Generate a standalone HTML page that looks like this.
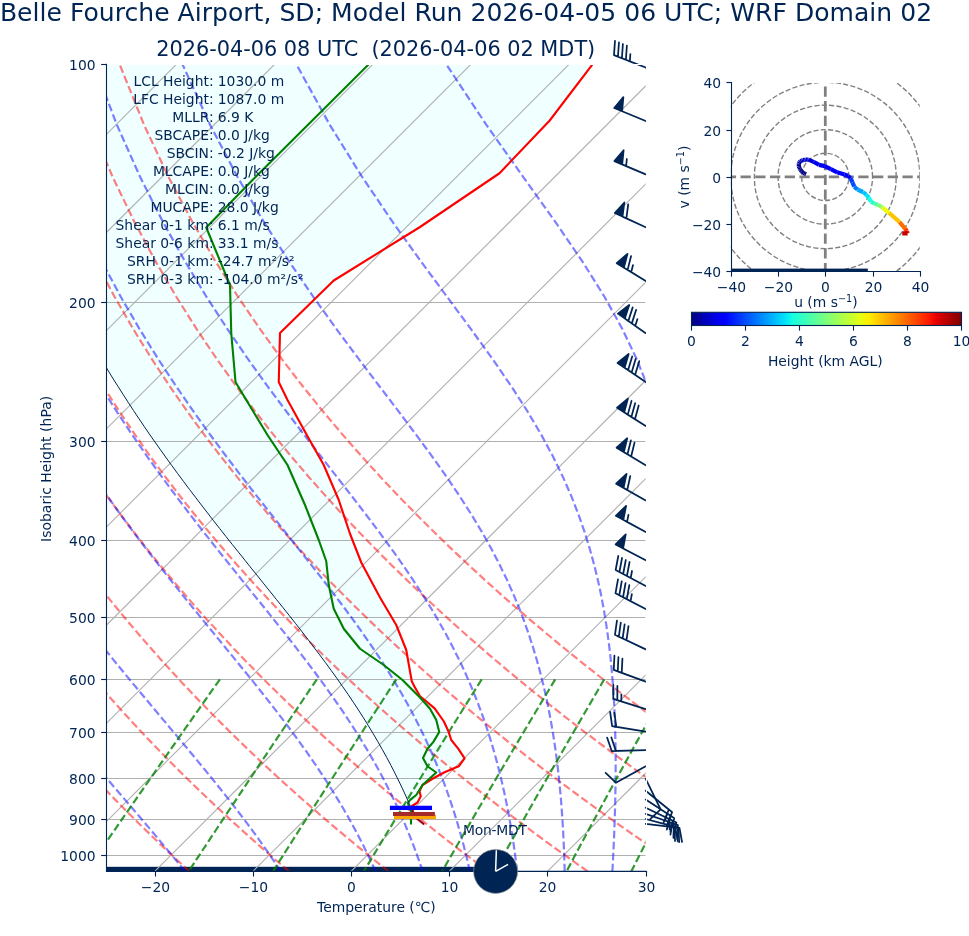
<!DOCTYPE html>
<html lang="en"><head><meta charset="utf-8"><title>Skew-T</title>
<style>html,body{margin:0;padding:0;background:#fff}svg{display:block;will-change:transform}</style></head>
<body>
<svg width="969" height="936" viewBox="0 0 969 936" font-family="'DejaVu Sans', 'Liberation Sans', sans-serif" fill="#002453">
<defs><clipPath id="ca"><rect x="106.5" y="64.35" width="539.15" height="807.05"/></clipPath>
<clipPath id="ch"><rect x="730.8" y="82.4" width="189" height="189"/></clipPath>
<linearGradient id="jet" x1="0" x2="1" y1="0" y2="0"><stop offset="0.0000" stop-color="#000080"/><stop offset="0.0312" stop-color="#0000a4"/><stop offset="0.0625" stop-color="#0000c8"/><stop offset="0.0938" stop-color="#0000ed"/><stop offset="0.1250" stop-color="#0000ff"/><stop offset="0.1562" stop-color="#0020ff"/><stop offset="0.1875" stop-color="#0040ff"/><stop offset="0.2188" stop-color="#0060ff"/><stop offset="0.2500" stop-color="#0080ff"/><stop offset="0.2812" stop-color="#00a0ff"/><stop offset="0.3125" stop-color="#00c0ff"/><stop offset="0.3438" stop-color="#00e0fb"/><stop offset="0.3750" stop-color="#16ffe1"/><stop offset="0.4062" stop-color="#30ffc7"/><stop offset="0.4375" stop-color="#49ffad"/><stop offset="0.4688" stop-color="#63ff94"/><stop offset="0.5000" stop-color="#7dff7a"/><stop offset="0.5312" stop-color="#97ff60"/><stop offset="0.5625" stop-color="#b1ff46"/><stop offset="0.5938" stop-color="#caff2c"/><stop offset="0.6250" stop-color="#e4ff13"/><stop offset="0.6562" stop-color="#feed00"/><stop offset="0.6875" stop-color="#ffd000"/><stop offset="0.7188" stop-color="#ffb200"/><stop offset="0.7500" stop-color="#ff9400"/><stop offset="0.7812" stop-color="#ff7700"/><stop offset="0.8125" stop-color="#ff5900"/><stop offset="0.8438" stop-color="#ff3b00"/><stop offset="0.8750" stop-color="#ff1e00"/><stop offset="0.9062" stop-color="#e80000"/><stop offset="0.9375" stop-color="#c40000"/><stop offset="0.9688" stop-color="#9f0000"/><stop offset="1.0000" stop-color="#800000"/></linearGradient></defs>
<rect width="969" height="936" fill="#fff"/>
<g clip-path="url(#ca)">
<polygon points="592.3,64.6 549.5,120.75 499.5,173.25 420,227 333.75,280.5 280,333 278.75,382 287.5,400 307.5,436.25 323.75,465 338.75,500 350,533.75 361.25,562.5 380,597.5 396.25,625 406.25,650 411.75,681.25 414.2,686.1 420,696.25 425.9,701 434.6,708.4 443.75,721.25 448.2,730.7 451.25,740 458.2,748.7 464.6,758.3 458.75,766.25 444.5,772.2 432.5,778.75 422.5,785 419.5,791.25 420.75,796.25 417.5,802.5 412,806 413,811.5 409.7,804.7 406.2,796.8 402.6,788.9 398.8,781 394.9,773.1 390.9,765.3 386.7,757.4 382.3,749.5 377.8,741.6 373.2,733.7 368.4,725.8 363.5,717.9 358.5,710.1 353.3,702.2 348,694.3 342.5,686.4 337,678.5 331.3,670.6 325.5,662.7 319.7,654.9 313.7,647 307.7,639.1 301.6,631.2 295.4,623.3 289.2,615.4 282.9,607.5 276.6,599.7 270.3,591.8 263.9,583.9 257.6,576 251.2,568.1 244.9,560.2 238.6,552.3 232.3,544.5 226,536.6 219.8,528.7 213.6,520.8 207.5,512.9 201.4,505 195.4,497.1 189.4,489.3 183.5,481.4 177.6,473.5 171.8,465.6 166.1,457.7 160.5,449.8 154.9,441.9 149.4,434.1 144,426.2 138.7,418.3 133.4,410.4 128.3,402.5 123.2,394.6 118.2,386.7 113.2,378.9 108.4,371 103.6,363.1 98.9,355.2 94.3,347.3 89.7,339.4 85.3,331.5 80.9,323.7 76.6,315.8 72.4,307.9 68.2,300 101.5,300 101.5,64.35" fill="#f0ffff"/>
<rect x="106.5" y="866.8" width="389.1" height="5.15" fill="#002453"/>
<line x1="106.5" x2="645.65" y1="64.5" y2="64.5" stroke="#b0b0b0" stroke-width="1.11"/>
<line x1="106.5" x2="645.65" y1="302.5" y2="302.5" stroke="#b0b0b0" stroke-width="1.11"/>
<line x1="106.5" x2="645.65" y1="441.5" y2="441.5" stroke="#b0b0b0" stroke-width="1.11"/>
<line x1="106.5" x2="645.65" y1="540.5" y2="540.5" stroke="#b0b0b0" stroke-width="1.11"/>
<line x1="106.5" x2="645.65" y1="617.5" y2="617.5" stroke="#b0b0b0" stroke-width="1.11"/>
<line x1="106.5" x2="645.65" y1="679.5" y2="679.5" stroke="#b0b0b0" stroke-width="1.11"/>
<line x1="106.5" x2="645.65" y1="732.5" y2="732.5" stroke="#b0b0b0" stroke-width="1.11"/>
<line x1="106.5" x2="645.65" y1="778.5" y2="778.5" stroke="#b0b0b0" stroke-width="1.11"/>
<line x1="106.5" x2="645.65" y1="819.5" y2="819.5" stroke="#b0b0b0" stroke-width="1.11"/>
<line x1="106.5" x2="645.65" y1="855.5" y2="855.5" stroke="#b0b0b0" stroke-width="1.11"/>
<line x1="-925.24" y1="871.4" x2="-118.19" y2="64.35" stroke="#b0b0b0" stroke-width="1.11"/>
<line x1="-827.06" y1="871.4" x2="-20.01" y2="64.35" stroke="#b0b0b0" stroke-width="1.11"/>
<line x1="-728.88" y1="871.4" x2="78.17" y2="64.35" stroke="#b0b0b0" stroke-width="1.11"/>
<line x1="-630.7" y1="871.4" x2="176.35" y2="64.35" stroke="#b0b0b0" stroke-width="1.11"/>
<line x1="-532.52" y1="871.4" x2="274.53" y2="64.35" stroke="#b0b0b0" stroke-width="1.11"/>
<line x1="-434.34" y1="871.4" x2="372.71" y2="64.35" stroke="#b0b0b0" stroke-width="1.11"/>
<line x1="-336.16" y1="871.4" x2="470.89" y2="64.35" stroke="#b0b0b0" stroke-width="1.11"/>
<line x1="-237.98" y1="871.4" x2="569.07" y2="64.35" stroke="#b0b0b0" stroke-width="1.11"/>
<line x1="-139.8" y1="871.4" x2="667.25" y2="64.35" stroke="#b0b0b0" stroke-width="1.11"/>
<line x1="-41.62" y1="871.4" x2="765.43" y2="64.35" stroke="#b0b0b0" stroke-width="1.11"/>
<line x1="56.56" y1="871.4" x2="863.61" y2="64.35" stroke="#b0b0b0" stroke-width="1.11"/>
<line x1="154.74" y1="871.4" x2="961.79" y2="64.35" stroke="#b0b0b0" stroke-width="1.11"/>
<line x1="252.92" y1="871.4" x2="1059.97" y2="64.35" stroke="#b0b0b0" stroke-width="1.11"/>
<line x1="351.1" y1="871.4" x2="1158.15" y2="64.35" stroke="#b0b0b0" stroke-width="1.11"/>
<line x1="449.28" y1="871.4" x2="1256.33" y2="64.35" stroke="#b0b0b0" stroke-width="1.11"/>
<line x1="547.46" y1="871.4" x2="1354.51" y2="64.35" stroke="#b0b0b0" stroke-width="1.11"/>
<line x1="645.64" y1="871.4" x2="1452.69" y2="64.35" stroke="#b0b0b0" stroke-width="1.11"/>
<polyline points="189.59,871.44 182.61,865.04 175.56,858.52 168.45,851.88 161.28,845.1 154.05,838.19 146.75,831.13 139.38,823.93 131.95,816.57 124.44,809.06 116.87,801.37 109.22,793.51 101.5,785.46 93.7,777.22 85.83,768.78 77.87,760.12 69.83,751.24 61.71,742.13 53.51,732.76 45.21,723.14 36.82,713.23 28.35,703.03 19.77,692.52 11.1,681.68 2.34,670.48 -6.53,658.91 -15.5,646.93 -24.58,634.52 -33.77,621.64 -43.06,608.26 -52.46,594.34 -61.98,579.83 -71.61,564.68 -81.35,548.83 -91.2,532.21 -101.16,514.74 -111.23,496.34 -121.39,476.9 -131.65,456.29 -141.99,434.36 -152.39,410.93 -162.83,385.79 -173.26,358.66 -183.64,329.2 -193.9,296.97 -203.91,261.4 -213.51,221.71 -222.44,176.83 -230.28,125.17 -236.32,64.35" fill="none" stroke="#f00" stroke-width="2.2" stroke-dasharray="7.71 3.33" stroke-opacity="0.5" />
<polyline points="289.15,871.44 281.64,865.04 274.05,858.52 266.4,851.88 258.68,845.1 250.89,838.19 243.02,831.13 235.08,823.93 227.06,816.57 218.97,809.06 210.79,801.37 202.53,793.51 194.18,785.46 185.75,777.22 177.23,768.78 168.62,760.12 159.91,751.24 151.11,742.13 142.21,732.76 133.21,723.14 124.1,713.23 114.88,703.03 105.56,692.52 96.12,681.68 86.56,670.48 76.88,658.91 67.08,646.93 57.16,634.52 47.1,621.64 36.91,608.26 26.59,594.34 16.12,579.83 5.52,564.68 -5.23,548.83 -16.13,532.21 -27.18,514.74 -38.37,496.34 -49.71,476.9 -61.18,456.29 -72.8,434.36 -84.53,410.93 -96.38,385.79 -108.29,358.66 -120.25,329.2 -132.18,296.97 -143.99,261.4 -155.54,221.71 -166.6,176.83 -176.79,125.17 -185.46,64.35" fill="none" stroke="#f00" stroke-width="2.2" stroke-dasharray="7.71 3.33" stroke-opacity="0.5" />
<polyline points="388.71,871.44 380.66,865.04 372.55,858.52 364.35,851.88 356.08,845.1 347.73,838.19 339.29,831.13 330.78,823.93 322.18,816.57 313.49,809.06 304.71,801.37 295.83,793.51 286.87,785.46 277.8,777.22 268.64,768.78 259.37,760.12 249.99,751.24 240.51,742.13 230.91,732.76 221.2,723.14 211.37,713.23 201.42,703.03 191.34,692.52 181.13,681.68 170.78,670.48 160.3,658.91 149.67,646.93 138.9,634.52 127.97,621.64 116.88,608.26 105.64,594.34 94.22,579.83 82.64,564.68 70.88,548.83 58.93,532.21 46.81,514.74 34.49,496.34 21.98,476.9 9.28,456.29 -3.6,434.36 -16.68,410.93 -29.92,385.79 -43.33,358.66 -56.86,329.2 -70.46,296.97 -84.08,261.4 -97.57,221.71 -110.76,176.83 -123.3,125.17 -134.61,64.35" fill="none" stroke="#f00" stroke-width="2.2" stroke-dasharray="7.71 3.33" stroke-opacity="0.5" />
<polyline points="488.27,871.44 479.69,865.04 471.04,858.52 462.3,851.88 453.48,845.1 444.57,838.19 435.57,831.13 426.48,823.93 417.29,816.57 408.01,809.06 398.62,801.37 389.14,793.51 379.55,785.46 369.85,777.22 360.04,768.78 350.12,760.12 340.07,751.24 329.91,742.13 319.62,732.76 309.2,723.14 298.65,713.23 287.96,703.03 277.12,692.52 266.14,681.68 255.01,670.48 243.71,658.91 232.26,646.93 220.64,634.52 208.84,621.64 196.86,608.26 184.69,594.34 172.33,579.83 159.76,564.68 146.99,548.83 134,532.21 120.79,514.74 107.35,496.34 93.67,476.9 79.75,456.29 65.59,434.36 51.18,410.93 36.53,385.79 21.64,358.66 6.54,329.2 -8.75,296.97 -24.16,261.4 -39.6,221.71 -54.91,176.83 -69.81,125.17 -83.76,64.35" fill="none" stroke="#f00" stroke-width="2.2" stroke-dasharray="7.71 3.33" stroke-opacity="0.5" />
<polyline points="587.83,871.44 578.72,865.04 569.53,858.52 560.25,851.88 550.88,845.1 541.41,838.19 531.84,831.13 522.17,823.93 512.4,816.57 502.53,809.06 492.54,801.37 482.44,793.51 472.23,785.46 461.9,777.22 451.44,768.78 440.86,760.12 430.15,751.24 419.31,742.13 408.32,732.76 397.2,723.14 385.92,713.23 374.49,703.03 362.9,692.52 351.15,681.68 339.23,670.48 327.13,658.91 314.85,646.93 302.38,634.52 289.7,621.64 276.83,608.26 263.74,594.34 250.43,579.83 236.88,564.68 223.1,548.83 209.07,532.21 194.77,514.74 180.21,496.34 165.36,476.9 150.22,456.29 134.79,434.36 119.04,410.93 102.98,385.79 86.61,358.66 69.93,329.2 52.97,296.97 35.76,261.4 18.36,221.71 0.93,176.83 -16.31,125.17 -32.91,64.35" fill="none" stroke="#f00" stroke-width="2.2" stroke-dasharray="7.71 3.33" stroke-opacity="0.5" />
<polyline points="687.38,871.44 677.75,865.04 668.03,858.52 658.2,851.88 648.28,845.1 638.25,838.19 628.11,831.13 617.87,823.93 607.52,816.57 597.05,809.06 586.46,801.37 575.75,793.51 564.91,785.46 553.95,777.22 542.85,768.78 531.61,760.12 520.23,751.24 508.71,742.13 497.03,732.76 485.19,723.14 473.2,713.23 461.03,703.03 448.69,692.52 436.16,681.68 423.45,670.48 410.55,658.91 397.44,646.93 384.11,634.52 370.57,621.64 356.8,608.26 342.79,594.34 328.53,579.83 314.01,564.68 299.21,548.83 284.13,532.21 268.75,514.74 253.06,496.34 237.05,476.9 220.69,456.29 203.98,434.36 186.9,410.93 169.44,385.79 151.58,358.66 133.33,329.2 114.69,296.97 95.67,261.4 76.33,221.71 56.77,176.83 37.18,125.17 17.94,64.35" fill="none" stroke="#f00" stroke-width="2.2" stroke-dasharray="7.71 3.33" stroke-opacity="0.5" />
<polyline points="786.94,871.44 776.78,865.04 766.52,858.52 756.15,851.88 745.68,845.1 735.09,838.19 724.39,831.13 713.57,823.93 702.63,816.57 691.57,809.06 680.38,801.37 669.05,793.51 657.6,785.46 646,777.22 634.25,768.78 622.36,760.12 610.31,751.24 598.11,742.13 585.73,732.76 573.19,723.14 560.47,713.23 547.56,703.03 534.47,692.52 521.18,681.68 507.68,670.48 493.96,658.91 480.02,646.93 465.85,634.52 451.44,621.64 436.77,608.26 421.84,594.34 406.63,579.83 391.13,564.68 375.32,548.83 359.2,532.21 342.74,514.74 325.92,496.34 308.74,476.9 291.16,456.29 273.17,434.36 254.76,410.93 235.89,385.79 216.55,358.66 196.72,329.2 176.4,296.97 155.59,261.4 134.3,221.71 112.61,176.83 90.67,125.17 68.8,64.35" fill="none" stroke="#f00" stroke-width="2.2" stroke-dasharray="7.71 3.33" stroke-opacity="0.5" />
<polyline points="886.5,871.44 875.81,865.04 865.01,858.52 854.1,851.88 843.08,845.1 831.93,838.19 820.66,831.13 809.27,823.93 797.75,816.57 786.09,809.06 774.29,801.37 762.36,793.51 750.28,785.46 738.05,777.22 725.66,768.78 713.11,760.12 700.39,751.24 687.5,742.13 674.44,732.76 661.19,723.14 647.74,713.23 634.1,703.03 620.25,692.52 606.19,681.68 591.9,670.48 577.38,658.91 562.61,646.93 547.59,634.52 532.31,621.64 516.74,608.26 500.89,594.34 484.73,579.83 468.25,564.68 451.44,548.83 434.26,532.21 416.72,514.74 398.78,496.34 380.43,476.9 361.63,456.29 342.37,434.36 322.61,410.93 302.34,385.79 281.52,358.66 260.12,329.2 238.12,296.97 215.5,261.4 192.27,221.71 168.46,176.83 144.17,125.17 119.65,64.35" fill="none" stroke="#f00" stroke-width="2.2" stroke-dasharray="7.71 3.33" stroke-opacity="0.5" />
<polyline points="185.09,871.44 179.92,865.04 174.6,858.52 169.13,851.88 163.5,845.1 157.72,838.19 151.78,831.13 145.68,823.93 139.42,816.57 133.01,809.06 126.43,801.37 119.69,793.51 112.79,785.46 105.74,777.22 98.53,768.78 91.16,760.12 83.63,751.24 75.96,742.13 68.13,732.76 60.15,723.14 52.02,713.23 43.75,703.03 35.33,692.52 26.77,681.68 18.07,670.48 9.23,658.91 0.26,646.93 -8.86,634.52 -18.11,621.64 -27.49,608.26 -37.01,594.34 -46.66,579.83 -56.44,564.68 -66.35,548.83 -76.38,532.21 -86.54,514.74 -96.82,496.34 -107.21,476.9 -117.7,456.29 -128.29,434.36 -138.96,410.93 -149.67,385.79 -160.4,358.66 -171.09,329.2 -181.67,296.97 -192.04,261.4 -202.03,221.71 -211.38,176.83 -219.69,125.17 -226.24,64.35" fill="none" stroke="#00f" stroke-width="2.2" stroke-dasharray="7.71 3.33" stroke-opacity="0.5" />
<polyline points="280.88,871.44 276.65,865.04 272.26,858.52 267.68,851.88 262.93,845.1 257.98,838.19 252.84,831.13 247.5,823.93 241.96,816.57 236.2,809.06 230.22,801.37 224.02,793.51 217.59,785.46 210.94,777.22 204.05,768.78 196.92,760.12 189.56,751.24 181.96,742.13 174.12,732.76 166.04,723.14 157.73,713.23 149.18,703.03 140.41,692.52 131.4,681.68 122.17,670.48 112.71,658.91 103.04,646.93 93.15,634.52 83.05,621.64 72.75,608.26 62.24,594.34 51.54,579.83 40.64,564.68 29.54,548.83 18.25,532.21 6.78,514.74 -4.88,496.34 -16.72,476.9 -28.74,456.29 -40.92,434.36 -53.26,410.93 -65.75,385.79 -78.35,358.66 -91.03,329.2 -103.73,296.97 -116.37,261.4 -128.82,221.71 -140.86,176.83 -152.13,125.17 -162.02,64.35" fill="none" stroke="#00f" stroke-width="2.2" stroke-dasharray="7.71 3.33" stroke-opacity="0.5" />
<polyline points="375.56,871.44 372.67,865.04 369.64,858.52 366.45,851.88 363.1,845.1 359.58,838.19 355.87,831.13 351.97,823.93 347.86,816.57 343.54,809.06 338.99,801.37 334.19,793.51 329.14,785.46 323.82,777.22 318.22,768.78 312.32,760.12 306.12,751.24 299.6,742.13 292.74,732.76 285.54,723.14 277.99,713.23 270.07,703.03 261.78,692.52 253.13,681.68 244.09,670.48 234.67,658.91 224.88,646.93 214.71,634.52 204.17,621.64 193.27,608.26 182.01,594.34 170.4,579.83 158.46,564.68 146.18,548.83 133.58,532.21 120.67,514.74 107.45,496.34 93.93,476.9 80.13,456.29 66.04,434.36 51.68,410.93 37.05,385.79 22.17,358.66 7.07,329.2 -8.23,296.97 -23.65,261.4 -39.11,221.71 -54.44,176.83 -69.35,125.17 -83.33,64.35" fill="none" stroke="#00f" stroke-width="2.2" stroke-dasharray="7.71 3.33" stroke-opacity="0.5" />
<polyline points="422.71,871.44 420.55,865.04 418.28,858.52 415.87,851.88 413.33,845.1 410.65,838.19 407.81,831.13 404.8,823.93 401.61,816.57 398.23,809.06 394.65,801.37 390.85,793.51 386.81,785.46 382.52,777.22 377.97,768.78 373.13,760.12 367.98,751.24 362.51,742.13 356.7,732.76 350.52,723.14 343.96,713.23 336.99,703.03 329.59,692.52 321.76,681.68 313.47,670.48 304.7,658.91 295.45,646.93 285.71,634.52 275.47,621.64 264.74,608.26 253.5,594.34 241.79,579.83 229.59,564.68 216.92,548.83 203.8,532.21 190.23,514.74 176.25,496.34 161.85,476.9 147.06,456.29 131.88,434.36 116.33,410.93 100.42,385.79 84.16,358.66 67.57,329.2 50.69,296.97 33.55,261.4 16.23,221.71 -1.12,176.83 -18.28,125.17 -34.77,64.35" fill="none" stroke="#00f" stroke-width="2.2" stroke-dasharray="7.71 3.33" stroke-opacity="0.5" />
<polyline points="469.89,871.44 468.45,865.04 466.92,858.52 465.29,851.88 463.57,845.1 461.73,838.19 459.77,831.13 457.68,823.93 455.45,816.57 453.07,809.06 450.53,801.37 447.81,793.51 444.91,785.46 441.79,777.22 438.45,768.78 434.86,760.12 431.01,751.24 426.88,742.13 422.43,732.76 417.65,723.14 412.5,713.23 406.96,703.03 400.99,692.52 394.57,681.68 387.66,670.48 380.22,658.91 372.23,646.93 363.65,634.52 354.45,621.64 344.62,608.26 334.13,594.34 322.96,579.83 311.11,564.68 298.58,548.83 285.38,532.21 271.52,514.74 257.02,496.34 241.9,476.9 226.19,456.29 209.92,434.36 193.1,410.93 175.77,385.79 157.94,358.66 139.63,329.2 120.88,296.97 101.72,261.4 82.2,221.71 62.42,176.83 42.6,125.17 23.09,64.35" fill="none" stroke="#00f" stroke-width="2.2" stroke-dasharray="7.71 3.33" stroke-opacity="0.5" />
<polyline points="517.19,871.44 516.42,865.04 515.59,858.52 514.7,851.88 513.74,845.1 512.7,838.19 511.58,831.13 510.37,823.93 509.07,816.57 507.66,809.06 506.14,801.37 504.49,793.51 502.71,785.46 500.78,777.22 498.68,768.78 496.41,760.12 493.94,751.24 491.25,742.13 488.32,732.76 485.13,723.14 481.65,713.23 477.85,703.03 473.69,692.52 469.15,681.68 464.16,670.48 458.71,658.91 452.72,646.93 446.16,634.52 438.96,621.64 431.06,608.26 422.42,594.34 412.97,579.83 402.66,564.68 391.43,548.83 379.26,532.21 366.11,514.74 351.98,496.34 336.87,476.9 320.8,456.29 303.81,434.36 285.93,410.93 267.23,385.79 247.73,358.66 227.5,329.2 206.57,296.97 184.99,261.4 162.81,221.71 140.1,176.83 117.01,125.17 93.83,64.35" fill="none" stroke="#00f" stroke-width="2.2" stroke-dasharray="7.71 3.33" stroke-opacity="0.5" />
<polyline points="564.67,871.44 564.5,865.04 564.3,858.52 564.07,851.88 563.79,845.1 563.48,838.19 563.11,831.13 562.7,823.93 562.23,816.57 561.7,809.06 561.11,801.37 560.44,793.51 559.68,785.46 558.84,777.22 557.9,768.78 556.84,760.12 555.67,751.24 554.36,742.13 552.89,732.76 551.25,723.14 549.43,713.23 547.39,703.03 545.11,692.52 542.56,681.68 539.7,670.48 536.5,658.91 532.91,646.93 528.87,634.52 524.33,621.64 519.22,608.26 513.46,594.34 506.97,579.83 499.64,564.68 491.37,548.83 482.04,532.21 471.55,514.74 459.78,496.34 446.63,476.9 432.01,456.29 415.88,434.36 398.22,410.93 379.07,385.79 358.48,358.66 336.55,329.2 313.37,296.97 289.06,261.4 263.71,221.71 237.4,176.83 210.25,125.17 182.49,64.35" fill="none" stroke="#00f" stroke-width="2.2" stroke-dasharray="7.71 3.33" stroke-opacity="0.5" />
<polyline points="612.38,871.44 612.73,865.04 613.07,858.52 613.4,851.88 613.71,845.1 614.02,838.19 614.3,831.13 614.57,823.93 614.81,816.57 615.03,809.06 615.23,801.37 615.39,793.51 615.52,785.46 615.61,777.22 615.65,768.78 615.64,760.12 615.58,751.24 615.45,742.13 615.24,732.76 614.96,723.14 614.57,713.23 614.08,703.03 613.45,692.52 612.69,681.68 611.76,670.48 610.64,658.91 609.3,646.93 607.71,634.52 605.81,621.64 603.58,608.26 600.93,594.34 597.81,579.83 594.13,564.68 589.78,548.83 584.65,532.21 578.58,514.74 571.41,496.34 562.92,476.9 552.89,456.29 541.06,434.36 527.18,410.93 510.98,385.79 492.29,358.66 471.02,329.2 447.18,296.97 420.92,261.4 392.46,221.71 362.07,176.83 329.96,125.17 296.39,64.35" fill="none" stroke="#00f" stroke-width="2.2" stroke-dasharray="7.71 3.33" stroke-opacity="0.5" />
<polyline points="660.31,871.44 661.1,865.04 661.89,858.52 662.69,851.88 663.49,845.1 664.31,838.19 665.13,831.13 665.95,823.93 666.78,816.57 667.62,809.06 668.46,801.37 669.3,793.51 670.14,785.46 670.99,777.22 671.83,768.78 672.66,760.12 673.49,751.24 674.31,742.13 675.11,732.76 675.9,723.14 676.67,713.23 677.4,703.03 678.11,692.52 678.77,681.68 679.37,670.48 679.92,658.91 680.39,646.93 680.76,634.52 681.02,621.64 681.14,608.26 681.1,594.34 680.85,579.83 680.35,564.68 679.54,548.83 678.36,532.21 676.7,514.74 674.46,496.34 671.49,476.9 667.59,456.29 662.51,434.36 655.93,410.93 647.43,385.79 636.49,358.66 622.46,329.2 604.63,296.97 582.35,261.4 555.17,221.71 523.09,176.83 486.56,125.17 446.28,64.35" fill="none" stroke="#00f" stroke-width="2.2" stroke-dasharray="7.71 3.33" stroke-opacity="0.5" />
<polyline points="708.47,871.44 709.61,865.04 710.76,858.52 711.94,851.88 713.14,845.1 714.36,838.19 715.61,831.13 716.88,823.93 718.17,816.57 719.5,809.06 720.84,801.37 722.22,793.51 723.62,785.46 725.05,777.22 726.51,768.78 727.99,760.12 729.51,751.24 731.06,742.13 732.63,732.76 734.24,723.14 735.87,713.23 737.54,703.03 739.23,692.52 740.96,681.68 742.71,670.48 744.48,658.91 746.28,646.93 748.09,634.52 749.92,621.64 751.76,608.26 753.6,594.34 755.42,579.83 757.23,564.68 758.99,548.83 760.68,532.21 762.27,514.74 763.72,496.34 764.97,476.9 765.94,456.29 766.53,434.36 766.58,410.93 765.87,385.79 764.11,358.66 760.84,329.2 755.38,296.97 746.72,261.4 733.38,221.71 713.28,176.83 684.01,125.17 643.88,64.35" fill="none" stroke="#00f" stroke-width="2.2" stroke-dasharray="7.71 3.33" stroke-opacity="0.5" />
<polyline points="219.86,679.35 216.18,684.57 212.57,689.7 209,694.76 205.49,699.75 202.04,704.67 198.63,709.51 195.27,714.29 191.96,719 188.7,723.65 185.49,728.24 182.31,732.76 179.18,737.23 176.1,741.64 173.05,746 170.04,750.3 167.08,754.54 164.14,758.74 161.25,762.88 158.39,766.97 155.57,771.02 152.78,775.02 150.03,778.97 147.31,782.88 144.62,786.74 141.96,790.56 139.33,794.34 136.73,798.08 134.16,801.78 131.62,805.44 129.11,809.06 126.63,812.64 124.17,816.18 121.73,819.69 119.33,823.16 116.95,826.6 114.59,830.01 112.26,833.38 109.95,836.71 107.66,840.02 105.4,843.29 103.16,846.54 100.94,849.75 98.74,852.93 96.57,856.09 94.41,859.21 92.28,862.31 90.16,865.38 88.07,868.42 85.99,871.44" fill="none" stroke="#008000" stroke-width="2.2" stroke-dasharray="7.71 3.33" stroke-opacity="0.8" />
<polyline points="316.81,679.35 313.29,684.57 309.81,689.7 306.39,694.76 303.03,699.75 299.71,704.67 296.44,709.51 293.22,714.29 290.05,719 286.92,723.65 283.84,728.24 280.8,732.76 277.8,737.23 274.84,741.64 271.92,746 269.04,750.3 266.19,754.54 263.39,758.74 260.61,762.88 257.88,766.97 255.17,771.02 252.5,775.02 249.87,778.97 247.26,782.88 244.68,786.74 242.14,790.56 239.62,794.34 237.14,798.08 234.68,801.78 232.25,805.44 229.84,809.06 227.46,812.64 225.11,816.18 222.79,819.69 220.48,823.16 218.21,826.6 215.95,830.01 213.72,833.38 211.51,836.71 209.33,840.02 207.17,843.29 205.02,846.54 202.9,849.75 200.8,852.93 198.73,856.09 196.67,859.21 194.63,862.31 192.6,865.38 190.6,868.42 188.62,871.44" fill="none" stroke="#008000" stroke-width="2.2" stroke-dasharray="7.71 3.33" stroke-opacity="0.8" />
<polyline points="396.32,679.35 392.92,684.57 389.57,689.7 386.27,694.76 383.03,699.75 379.83,704.67 376.68,709.51 373.58,714.29 370.52,719 367.51,723.65 364.54,728.24 361.61,732.76 358.72,737.23 355.87,741.64 353.06,746 350.28,750.3 347.54,754.54 344.84,758.74 342.17,762.88 339.54,766.97 336.94,771.02 334.37,775.02 331.83,778.97 329.32,782.88 326.85,786.74 324.4,790.56 321.98,794.34 319.59,798.08 317.22,801.78 314.89,805.44 312.58,809.06 310.29,812.64 308.03,816.18 305.79,819.69 303.58,823.16 301.39,826.6 299.23,830.01 297.08,833.38 294.96,836.71 292.86,840.02 290.79,843.29 288.73,846.54 286.69,849.75 284.68,852.93 282.68,856.09 280.7,859.21 278.74,862.31 276.8,865.38 274.88,868.42 272.98,871.44" fill="none" stroke="#008000" stroke-width="2.2" stroke-dasharray="7.71 3.33" stroke-opacity="0.8" />
<polyline points="481.68,679.35 478.42,684.57 475.21,689.7 472.05,694.76 468.94,699.75 465.88,704.67 462.86,709.51 459.89,714.29 456.96,719 454.07,723.65 451.23,728.24 448.43,732.76 445.66,737.23 442.93,741.64 440.24,746 437.59,750.3 434.97,754.54 432.38,758.74 429.83,762.88 427.31,766.97 424.82,771.02 422.37,775.02 419.94,778.97 417.54,782.88 415.18,786.74 412.84,790.56 410.52,794.34 408.24,798.08 405.98,801.78 403.75,805.44 401.54,809.06 399.36,812.64 397.2,816.18 395.06,819.69 392.95,823.16 390.86,826.6 388.79,830.01 386.75,833.38 384.72,836.71 382.72,840.02 380.74,843.29 378.78,846.54 376.83,849.75 374.91,852.93 373,856.09 371.12,859.21 369.25,862.31 367.4,865.38 365.57,868.42 363.75,871.44" fill="none" stroke="#008000" stroke-width="2.2" stroke-dasharray="7.71 3.33" stroke-opacity="0.8" />
<polyline points="555.18,679.35 552.05,684.57 548.96,689.7 545.92,694.76 542.94,699.75 539.99,704.67 537.09,709.51 534.24,714.29 531.43,719 528.65,723.65 525.92,728.24 523.23,732.76 520.57,737.23 517.95,741.64 515.37,746 512.82,750.3 510.31,754.54 507.83,758.74 505.38,762.88 502.96,766.97 500.58,771.02 498.22,775.02 495.89,778.97 493.6,782.88 491.33,786.74 489.08,790.56 486.87,794.34 484.68,798.08 482.51,801.78 480.37,805.44 478.26,809.06 476.17,812.64 474.1,816.18 472.05,819.69 470.03,823.16 468.03,826.6 466.05,830.01 464.09,833.38 462.15,836.71 460.24,840.02 458.34,843.29 456.46,846.54 454.6,849.75 452.76,852.93 450.94,856.09 449.14,859.21 447.35,862.31 445.58,865.38 443.83,868.42 442.09,871.44" fill="none" stroke="#008000" stroke-width="2.2" stroke-dasharray="7.71 3.33" stroke-opacity="0.8" />
<polyline points="604.26,679.35 601.21,684.57 598.21,689.7 595.26,694.76 592.35,699.75 589.49,704.67 586.67,709.51 583.89,714.29 581.16,719 578.47,723.65 575.81,728.24 573.19,732.76 570.61,737.23 568.07,741.64 565.56,746 563.09,750.3 560.64,754.54 558.24,758.74 555.86,762.88 553.51,766.97 551.19,771.02 548.91,775.02 546.65,778.97 544.42,782.88 542.21,786.74 540.04,790.56 537.89,794.34 535.76,798.08 533.66,801.78 531.59,805.44 529.54,809.06 527.51,812.64 525.5,816.18 523.52,819.69 521.56,823.16 519.62,826.6 517.7,830.01 515.8,833.38 513.92,836.71 512.06,840.02 510.22,843.29 508.4,846.54 506.6,849.75 504.82,852.93 503.05,856.09 501.31,859.21 499.58,862.31 497.86,865.38 496.17,868.42 494.48,871.44" fill="none" stroke="#008000" stroke-width="2.2" stroke-dasharray="7.71 3.33" stroke-opacity="0.8" />
<polyline points="671.6,679.35 668.67,684.57 665.79,689.7 662.95,694.76 660.16,699.75 657.41,704.67 654.71,709.51 652.04,714.29 649.42,719 646.84,723.65 644.29,728.24 641.78,732.76 639.31,737.23 636.87,741.64 634.46,746 632.09,750.3 629.75,754.54 627.44,758.74 625.17,762.88 622.92,766.97 620.7,771.02 618.51,775.02 616.35,778.97 614.21,782.88 612.1,786.74 610.02,790.56 607.96,794.34 605.93,798.08 603.92,801.78 601.93,805.44 599.97,809.06 598.03,812.64 596.11,816.18 594.22,819.69 592.34,823.16 590.49,826.6 588.65,830.01 586.84,833.38 585.04,836.71 583.27,840.02 581.51,843.29 579.77,846.54 578.05,849.75 576.35,852.93 574.66,856.09 573,859.21 571.34,862.31 569.71,865.38 568.09,868.42 566.49,871.44" fill="none" stroke="#008000" stroke-width="2.2" stroke-dasharray="7.71 3.33" stroke-opacity="0.8" />
<polyline points="732.05,679.35 729.23,684.57 726.46,689.7 723.73,694.76 721.05,699.75 718.41,704.67 715.81,709.51 713.25,714.29 710.73,719 708.25,723.65 705.8,728.24 703.39,732.76 701.01,737.23 698.67,741.64 696.36,746 694.08,750.3 691.84,754.54 689.62,758.74 687.44,762.88 685.28,766.97 683.15,771.02 681.05,775.02 678.98,778.97 676.93,782.88 674.91,786.74 672.91,790.56 670.94,794.34 668.99,798.08 667.06,801.78 665.16,805.44 663.28,809.06 661.42,812.64 659.59,816.18 657.77,819.69 655.97,823.16 654.2,826.6 652.44,830.01 650.71,833.38 648.99,836.71 647.29,840.02 645.61,843.29 643.95,846.54 642.3,849.75 640.67,852.93 639.06,856.09 637.47,859.21 635.89,862.31 634.32,865.38 632.77,868.42 631.24,871.44" fill="none" stroke="#008000" stroke-width="2.2" stroke-dasharray="7.71 3.33" stroke-opacity="0.8" />
<polyline points="776.17,679.35 773.44,684.57 770.75,689.7 768.1,694.76 765.5,699.75 762.93,704.67 760.41,709.51 757.93,714.29 755.48,719 753.08,723.65 750.7,728.24 748.37,732.76 746.06,737.23 743.79,741.64 741.56,746 739.35,750.3 737.17,754.54 735.03,758.74 732.91,762.88 730.82,766.97 728.76,771.02 726.73,775.02 724.72,778.97 722.73,782.88 720.78,786.74 718.84,790.56 716.94,794.34 715.05,798.08 713.19,801.78 711.35,805.44 709.53,809.06 707.73,812.64 705.95,816.18 704.2,819.69 702.46,823.16 700.75,826.6 699.05,830.01 697.37,833.38 695.71,836.71 694.07,840.02 692.44,843.29 690.84,846.54 689.25,849.75 687.67,852.93 686.12,856.09 684.58,859.21 683.05,862.31 681.54,865.38 680.05,868.42 678.57,871.44" fill="none" stroke="#008000" stroke-width="2.2" stroke-dasharray="7.71 3.33" stroke-opacity="0.8" />
<polyline points="592.3,64.6 549.5,120.75 499.5,173.25 420,227 333.75,280.5 280,333 278.75,382 287.5,400 307.5,436.25 323.75,465 338.75,500 350,533.75 361.25,562.5 380,597.5 396.25,625 406.25,650 411.75,681.25 414.2,686.1 420,696.25 425.9,701 434.6,708.4 443.75,721.25 448.2,730.7 451.25,740 458.2,748.7 464.6,758.3 458.75,766.25 444.5,772.2 432.5,778.75 422.5,785 419.5,791.25 420.75,796.25 417.5,802.5 412,806 413,811.5 417.2,819 424.2,824.4" fill="none" stroke="#f00" stroke-width="2.12" stroke-linejoin="round"/>
<polyline points="368.5,64.6 252.5,180 206.25,227.5 230,285 231.25,333 235.5,382 246.25,400 267.5,435 287.5,465 305,505 318.75,540 326.25,561.25 328.75,585 333.75,608.75 343.75,628.75 360,648.75 383.75,665 402.5,680 413.5,691.1 420,697.5 430,708.75 436.25,720 439.25,732 433.4,741.9 427.5,748.75 423,758 427.5,766.25 436.25,772.5 422.5,785 416.25,795 410.5,799.6 407.9,802.7 408.7,805.8 411,811.5 411,824.4" fill="none" stroke="#008000" stroke-width="2.12" stroke-linejoin="round"/>
<polyline points="68.2,300 72.4,307.9 76.6,315.8 80.9,323.7 85.3,331.5 89.7,339.4 94.3,347.3 98.9,355.2 103.6,363.1 108.4,371 113.2,378.9 118.2,386.7 123.2,394.6 128.3,402.5 133.4,410.4 138.7,418.3 144,426.2 149.4,434.1 154.9,441.9 160.5,449.8 166.1,457.7 171.8,465.6 177.6,473.5 183.5,481.4 189.4,489.3 195.4,497.1 201.4,505 207.5,512.9 213.6,520.8 219.8,528.7 226,536.6 232.3,544.5 238.6,552.3 244.9,560.2 251.2,568.1 257.6,576 263.9,583.9 270.3,591.8 276.6,599.7 282.9,607.5 289.2,615.4 295.4,623.3 301.6,631.2 307.7,639.1 313.7,647 319.7,654.9 325.5,662.7 331.3,670.6 337,678.5 342.5,686.4 348,694.3 353.3,702.2 358.5,710.1 363.5,717.9 368.4,725.8 373.2,733.7 377.8,741.6 382.3,749.5 386.7,757.4 390.9,765.3 394.9,773.1 398.8,781 402.6,788.9 406.2,796.8 409.7,804.7 413.1,812.6 414.4,816.5 424.2,824.4" fill="none" stroke="#002453" stroke-width="1" />
</g>
<line x1="389.9" x2="432" y1="807.9" y2="807.9" stroke="#0000ff" stroke-width="4.17"/>
<line x1="394" x2="436" y1="817" y2="817" stroke="#ffa500" stroke-width="4.17"/>
<line x1="393" x2="434.9" y1="814" y2="814" stroke="#a52a2a" stroke-width="4.17"/>
<line x1="106.5" x2="106.5" y1="63.8" y2="871.95" stroke="#002453" stroke-width="1.11"/>
<line x1="105.95" x2="647.05" y1="871.4" y2="871.4" stroke="#002453" stroke-width="1.11"/>
<line x1="101.14" x2="106.5" y1="64.5" y2="64.5" stroke="#002453" stroke-width="1.11"/>
<text x="95.6" y="69.8" font-size="13.89" text-anchor="end">100</text>
<line x1="101.14" x2="106.5" y1="302.5" y2="302.5" stroke="#002453" stroke-width="1.11"/>
<text x="95.6" y="307.8" font-size="13.89" text-anchor="end">200</text>
<line x1="101.14" x2="106.5" y1="441.5" y2="441.5" stroke="#002453" stroke-width="1.11"/>
<text x="95.6" y="446.8" font-size="13.89" text-anchor="end">300</text>
<line x1="101.14" x2="106.5" y1="540.5" y2="540.5" stroke="#002453" stroke-width="1.11"/>
<text x="95.6" y="545.8" font-size="13.89" text-anchor="end">400</text>
<line x1="101.14" x2="106.5" y1="617.5" y2="617.5" stroke="#002453" stroke-width="1.11"/>
<text x="95.6" y="622.8" font-size="13.89" text-anchor="end">500</text>
<line x1="101.14" x2="106.5" y1="679.5" y2="679.5" stroke="#002453" stroke-width="1.11"/>
<text x="95.6" y="684.8" font-size="13.89" text-anchor="end">600</text>
<line x1="101.14" x2="106.5" y1="732.5" y2="732.5" stroke="#002453" stroke-width="1.11"/>
<text x="95.6" y="737.8" font-size="13.89" text-anchor="end">700</text>
<line x1="101.14" x2="106.5" y1="778.5" y2="778.5" stroke="#002453" stroke-width="1.11"/>
<text x="95.6" y="783.8" font-size="13.89" text-anchor="end">800</text>
<line x1="101.14" x2="106.5" y1="819.5" y2="819.5" stroke="#002453" stroke-width="1.11"/>
<text x="95.6" y="824.8" font-size="13.89" text-anchor="end">900</text>
<line x1="101.14" x2="106.5" y1="855.5" y2="855.5" stroke="#002453" stroke-width="1.11"/>
<text x="95.6" y="860.8" font-size="13.89" text-anchor="end">1000</text>
<line x1="155.5" x2="155.5" y1="871.4" y2="876.56" stroke="#002453" stroke-width="1.11"/>
<text x="155.5" y="892" font-size="13.89" text-anchor="middle">−20</text>
<line x1="253.5" x2="253.5" y1="871.4" y2="876.56" stroke="#002453" stroke-width="1.11"/>
<text x="253.5" y="892" font-size="13.89" text-anchor="middle">−10</text>
<line x1="351.5" x2="351.5" y1="871.4" y2="876.56" stroke="#002453" stroke-width="1.11"/>
<text x="351.5" y="892" font-size="13.89" text-anchor="middle">0</text>
<line x1="449.5" x2="449.5" y1="871.4" y2="876.56" stroke="#002453" stroke-width="1.11"/>
<text x="449.5" y="892" font-size="13.89" text-anchor="middle">10</text>
<line x1="547.5" x2="547.5" y1="871.4" y2="876.56" stroke="#002453" stroke-width="1.11"/>
<text x="547.5" y="892" font-size="13.89" text-anchor="middle">20</text>
<line x1="646.5" x2="646.5" y1="871.4" y2="876.56" stroke="#002453" stroke-width="1.11"/>
<text x="646.5" y="892" font-size="13.89" text-anchor="middle">30</text>
<text x="376.4" y="912.3" font-size="13.89" text-anchor="middle">Temperature (℃)</text>
<text transform="translate(50.9 542.0) rotate(-90)" font-size="13.89" textLength="146.2" lengthAdjust="spacing">Isobaric Height (hPa)</text>
<text x="-0.1" y="20.8" font-size="25.05" textLength="932.2" lengthAdjust="spacing">Belle Fourche Airport, SD; Model Run 2026-04-05 06 UTC; WRF Domain 02</text>
<text x="375.7" y="55.6" font-size="20.83" text-anchor="middle" xml:space="preserve">2026-04-06 08 UTC  (2026-04-06 02 MDT)</text>
<text x="213.6" y="86.25" font-size="13.89" text-anchor="end">LCL Height:</text>
<text x="217.8" y="86.25" font-size="13.89">1030.0 m</text>
<text x="213.6" y="104.25" font-size="13.89" text-anchor="end">LFC Height:</text>
<text x="217.8" y="104.25" font-size="13.89">1087.0 m</text>
<text x="213.6" y="122.25" font-size="13.89" text-anchor="end">MLLR:</text>
<text x="217.8" y="122.25" font-size="13.89">6.9 K</text>
<text x="213.6" y="140.25" font-size="13.89" text-anchor="end">SBCAPE:</text>
<text x="217.8" y="140.25" font-size="13.89">0.0 J/kg</text>
<text x="213.6" y="158.25" font-size="13.89" text-anchor="end">SBCIN:</text>
<text x="217.8" y="158.25" font-size="13.89">-0.2 J/kg</text>
<text x="213.6" y="176.25" font-size="13.89" text-anchor="end">MLCAPE:</text>
<text x="217.8" y="176.25" font-size="13.89">0.0 J/kg</text>
<text x="213.6" y="194.25" font-size="13.89" text-anchor="end">MLCIN:</text>
<text x="217.8" y="194.25" font-size="13.89">0.0 J/kg</text>
<text x="213.6" y="212.25" font-size="13.89" text-anchor="end">MUCAPE:</text>
<text x="217.8" y="212.25" font-size="13.89">28.0 J/kg</text>
<text x="213.6" y="230.25" font-size="13.89" text-anchor="end">Shear 0-1 km:</text>
<text x="217.8" y="230.25" font-size="13.89">6.1 m/s</text>
<text x="213.6" y="248.25" font-size="13.89" text-anchor="end">Shear 0-6 km:</text>
<text x="217.8" y="248.25" font-size="13.89">33.1 m/s</text>
<text x="213.6" y="266.25" font-size="13.89" text-anchor="end">SRH 0-1 km:</text>
<text x="217.8" y="266.25" font-size="13.89">-24.7 m²/s²</text>
<text x="213.6" y="284.25" font-size="13.89" text-anchor="end">SRH 0-3 km:</text>
<text x="217.8" y="284.25" font-size="13.89">-104.0 m²/s²</text>
<path d="M645.7 67.5 L614 55.14 L614.98 40.91 L614 55.14 L617.96 56.68 L618.94 42.46 L617.96 56.68 L621.92 58.23 L622.9 44 L621.92 58.23 L625.89 59.77 L626.87 45.55 L625.89 59.77 L629.85 61.32 L630.34 54.21 L629.85 61.32 Z" fill="#002453" stroke="#002453" stroke-width="1.75" stroke-linejoin="round" stroke-linecap="butt"/>
<path d="M645.7 121 L614.24 108.03 L623.36 97.07 L622.11 111.27 Z" fill="#002453" stroke="#002453" stroke-width="1.75" stroke-linejoin="round" stroke-linecap="butt"/>
<path d="M645.7 174.4 L614.38 161.1 L623.61 150.24 L622.21 164.43 L626.12 166.09 L626.83 159 L626.12 166.09 Z" fill="#002453" stroke="#002453" stroke-width="1.75" stroke-linejoin="round" stroke-linecap="butt"/>
<path d="M645.7 227.3 L614.79 213.08 L624.34 202.49 L622.51 216.64 L626.38 218.41 L628.2 204.27 L626.38 218.41 Z" fill="#002453" stroke="#002453" stroke-width="1.75" stroke-linejoin="round" stroke-linecap="butt"/>
<path d="M645.7 281 L616.72 263.17 L627.47 253.81 L623.96 267.63 L627.59 269.86 L631.1 256.04 L627.59 269.86 L631.21 272.09 L632.96 265.17 L631.21 272.09 Z" fill="#002453" stroke="#002453" stroke-width="1.75" stroke-linejoin="round" stroke-linecap="butt"/>
<path d="M645.7 333.2 L617.9 313.59 L629.22 304.92 L624.85 318.49 L628.32 320.94 L632.69 307.37 L628.32 320.94 L631.8 323.39 L636.17 309.82 L631.8 323.39 L635.27 325.84 L637.46 319.06 L635.27 325.84 Z" fill="#002453" stroke="#002453" stroke-width="1.75" stroke-linejoin="round" stroke-linecap="butt"/>
<path d="M645.7 382 L617.52 362.92 L628.68 354.04 L624.57 367.69 L628.09 370.08 L632.2 356.42 L628.09 370.08 L631.61 372.46 L635.72 358.81 L631.61 372.46 L635.13 374.85 L639.24 361.19 L635.13 374.85 Z" fill="#002453" stroke="#002453" stroke-width="1.75" stroke-linejoin="round" stroke-linecap="butt"/>
<path d="M645.7 426.1 L617.03 407.77 L627.95 398.59 L624.2 412.35 L627.78 414.64 L631.53 400.88 L627.78 414.64 L631.37 416.93 L635.12 403.18 L631.37 416.93 L634.95 419.23 L638.7 405.47 L634.95 419.23 Z" fill="#002453" stroke="#002453" stroke-width="1.75" stroke-linejoin="round" stroke-linecap="butt"/>
<path d="M645.7 465.3 L616.56 447.72 L627.24 438.27 L623.85 452.12 L627.49 454.31 L630.88 440.46 L627.49 454.31 L631.13 456.51 L634.52 442.66 L631.13 456.51 Z" fill="#002453" stroke="#002453" stroke-width="1.75" stroke-linejoin="round" stroke-linecap="butt"/>
<path d="M645.7 500.5 L616.14 483.64 L626.58 473.93 L623.53 487.86 L627.23 489.96 L630.28 476.03 L627.23 489.96 Z" fill="#002453" stroke="#002453" stroke-width="1.75" stroke-linejoin="round" stroke-linecap="butt"/>
<path d="M645.7 532.1 L615.85 515.76 L626.12 505.86 L623.32 519.84 L627.05 521.89 L628.45 514.9 L627.05 521.89 Z" fill="#002453" stroke="#002453" stroke-width="1.75" stroke-linejoin="round" stroke-linecap="butt"/>
<path d="M645.7 560.3 L615.6 544.43 L625.71 534.37 L623.13 548.4 Z" fill="#002453" stroke="#002453" stroke-width="1.75" stroke-linejoin="round" stroke-linecap="butt"/>
<path d="M645.7 586 L615.66 570.03 L618.29 556.01 L615.66 570.03 L619.41 572.02 L622.05 558.01 L619.41 572.02 L623.17 574.02 L625.8 560 L623.17 574.02 L626.92 576.02 L629.56 562 L626.92 576.02 L630.68 578.01 L632 571.01 L630.68 578.01 Z" fill="#002453" stroke="#002453" stroke-width="1.75" stroke-linejoin="round" stroke-linecap="butt"/>
<path d="M645.7 609 L615.49 593.34 L617.98 579.3 L615.49 593.34 L619.27 595.3 L621.75 581.26 L619.27 595.3 L623.04 597.26 L625.53 583.21 L623.04 597.26 L626.82 599.21 L629.31 585.17 L626.82 599.21 L630.6 601.17 L631.84 594.15 L630.6 601.17 Z" fill="#002453" stroke="#002453" stroke-width="1.75" stroke-linejoin="round" stroke-linecap="butt"/>
<path d="M645.7 649.4 L614.96 634.8 L616.96 620.69 L614.96 634.8 L618.8 636.63 L620.8 622.51 L618.8 636.63 L622.65 638.45 L624.64 624.33 L622.65 638.45 L626.49 640.28 L628.48 626.16 L626.49 640.28 Z" fill="#002453" stroke="#002453" stroke-width="1.75" stroke-linejoin="round" stroke-linecap="butt"/>
<path d="M645.7 681.6 L613.75 669.91 L614.43 655.66 L613.75 669.91 L617.74 671.37 L618.42 657.12 L617.74 671.37 L621.73 672.83 L622.42 658.59 L621.73 672.83 Z" fill="#002453" stroke="#002453" stroke-width="1.75" stroke-linejoin="round" stroke-linecap="butt"/>
<path d="M645.7 709.2 L613.27 698.91 L613.33 684.65 L613.27 698.91 L617.32 700.2 L617.38 685.94 L617.32 700.2 L621.37 701.48 L621.4 694.35 L621.37 701.48 Z" fill="#002453" stroke="#002453" stroke-width="1.75" stroke-linejoin="round" stroke-linecap="butt"/>
<path d="M645.7 731.6 L612.12 726.1 L610.12 711.98 L612.12 726.1 L616.32 726.79 L614.32 712.67 L616.32 726.79 Z" fill="#002453" stroke="#002453" stroke-width="1.75" stroke-linejoin="round" stroke-linecap="butt"/>
<path d="M645.7 750.2 L611.68 751.03 L607.1 737.53 L611.68 751.03 L615.94 750.93 L611.35 737.42 L615.94 750.93 Z" fill="#002453" stroke="#002453" stroke-width="1.75" stroke-linejoin="round" stroke-linecap="butt"/>
<path d="M645.7 766.3 L615.91 782.74 L605.61 772.88 L615.91 782.74 Z" fill="#002453" stroke="#002453" stroke-width="1.75" stroke-linejoin="round" stroke-linecap="butt"/>
<path d="M645.7 778.8 L660.62 809.38 L650.25 819.17 L660.62 809.38 Z" fill="#002453" stroke="#002453" stroke-width="1.75" stroke-linejoin="round" stroke-linecap="butt"/>
<path d="M645.7 790.7 L672.11 812.16 L666.82 825.41 L672.11 812.16 L668.81 809.48 L663.52 822.72 L668.81 809.48 Z" fill="#002453" stroke="#002453" stroke-width="1.75" stroke-linejoin="round" stroke-linecap="butt"/>
<path d="M645.7 799.6 L674.24 818.13 L670.39 831.86 L674.24 818.13 L670.67 815.82 L666.82 829.55 L670.67 815.82 L667.1 813.5 L665.18 820.37 L667.1 813.5 Z" fill="#002453" stroke="#002453" stroke-width="1.75" stroke-linejoin="round" stroke-linecap="butt"/>
<path d="M645.7 807.7 L676.36 822.46 L674.29 836.57 L676.36 822.46 L672.53 820.61 L670.46 834.72 L672.53 820.61 L668.7 818.77 L667.66 825.82 L668.7 818.77 Z" fill="#002453" stroke="#002453" stroke-width="1.75" stroke-linejoin="round" stroke-linecap="butt"/>
<path d="M645.7 813.9 L677.87 824.98 L677.46 839.23 L677.87 824.98 L673.85 823.59 L673.44 837.85 L673.85 823.59 L669.83 822.21 L669.63 829.34 L669.83 822.21 Z" fill="#002453" stroke="#002453" stroke-width="1.75" stroke-linejoin="round" stroke-linecap="butt"/>
<path d="M645.7 819 L678.57 827.81 L679.15 842.05 L678.57 827.81 L674.46 826.71 L675.04 840.95 L674.46 826.71 Z" fill="#002453" stroke="#002453" stroke-width="1.75" stroke-linejoin="round" stroke-linecap="butt"/>
<path d="M645.7 823.8 L679.47 827.95 L682.04 841.97 L679.47 827.95 L675.25 827.43 L677.81 841.46 L675.25 827.43 Z" fill="#002453" stroke="#002453" stroke-width="1.75" stroke-linejoin="round" stroke-linecap="butt"/>
<path d="M107.05 64.5 H646.5 V870.85" stroke="#fff" stroke-width="1.11" fill="none"/>
<circle cx="495.6" cy="871.4" r="22.0" fill="#002453" stroke="#9a9a9a" stroke-width="0.7"/>
<path d="M495.6 871.4 L496.35 850.3 M495.6 871.4 L508.1 864.3" stroke="#fff" stroke-width="1.5" fill="none"/>
<text x="462.9" y="834.7" font-size="13.89" textLength="64.1" lengthAdjust="spacing">Mon-MDT</text>
<g clip-path="url(#ch)">
<path d="M848.92 176.9 A23.62 23.62 0 1 0 801.67 176.9 A23.62 23.62 0 1 0 848.92 176.9" fill="none" stroke="#808080" stroke-width="1.39" stroke-dasharray="5.14 2.22"/>
<path d="M872.55 176.9 A47.25 47.25 0 1 0 778.05 176.9 A47.25 47.25 0 1 0 872.55 176.9" fill="none" stroke="#808080" stroke-width="1.39" stroke-dasharray="5.14 2.22"/>
<path d="M896.17 176.9 A70.88 70.88 0 1 0 754.42 176.9 A70.88 70.88 0 1 0 896.17 176.9" fill="none" stroke="#808080" stroke-width="1.39" stroke-dasharray="5.14 2.22"/>
<path d="M919.8 176.9 A94.5 94.5 0 1 0 730.8 176.9 A94.5 94.5 0 1 0 919.8 176.9" fill="none" stroke="#808080" stroke-width="1.39" stroke-dasharray="5.14 2.22"/>
<path d="M943.42 176.9 A118.12 118.12 0 1 0 707.17 176.9 A118.12 118.12 0 1 0 943.42 176.9" fill="none" stroke="#808080" stroke-width="1.39" stroke-dasharray="5.14 2.22"/>
<line x1="825.3" x2="825.3" y1="273.3" y2="82.5" stroke="#808080" stroke-width="2.78" stroke-dasharray="10.28 4.44"/>
<line x1="725.8" x2="920.5" y1="176.9" y2="176.9" stroke="#808080" stroke-width="2.78" stroke-dasharray="10.28 4.44"/>
<line x1="806.1" y1="174.2" x2="804.81" y2="173.64" stroke="#000080" stroke-width="4.17"/>
<line x1="804.81" y1="173.64" x2="803.55" y2="173.01" stroke="#000080" stroke-width="4.17"/>
<line x1="803.55" y1="173.01" x2="802.43" y2="172.17" stroke="#000084" stroke-width="4.17"/>
<line x1="802.43" y1="172.17" x2="801.43" y2="171.19" stroke="#000089" stroke-width="4.17"/>
<line x1="801.43" y1="171.19" x2="800.6" y2="170.06" stroke="#000089" stroke-width="4.17"/>
<line x1="800.6" y1="170.06" x2="799.9" y2="168.85" stroke="#00008d" stroke-width="4.17"/>
<line x1="799.9" y1="168.85" x2="799.3" y2="167.57" stroke="#000092" stroke-width="4.17"/>
<line x1="799.3" y1="167.57" x2="798.85" y2="166.25" stroke="#000092" stroke-width="4.17"/>
<line x1="798.85" y1="166.25" x2="798.71" y2="164.85" stroke="#000096" stroke-width="4.17"/>
<line x1="798.71" y1="164.85" x2="798.85" y2="163.45" stroke="#00009f" stroke-width="4.17"/>
<line x1="798.85" y1="163.45" x2="799.51" y2="162.26" stroke="#0000a8" stroke-width="4.17"/>
<line x1="799.51" y1="162.26" x2="800.44" y2="161.23" stroke="#0000b2" stroke-width="4.17"/>
<line x1="800.44" y1="161.23" x2="801.69" y2="160.57" stroke="#0000b6" stroke-width="4.17"/>
<line x1="801.69" y1="160.57" x2="803" y2="160.1" stroke="#0000bf" stroke-width="4.17"/>
<line x1="803" y1="160.1" x2="804.39" y2="159.88" stroke="#0000c4" stroke-width="4.17"/>
<line x1="804.39" y1="159.88" x2="805.78" y2="159.7" stroke="#0000cd" stroke-width="4.17"/>
<line x1="805.78" y1="159.7" x2="807.19" y2="159.7" stroke="#0000d1" stroke-width="4.17"/>
<line x1="807.19" y1="159.7" x2="808.6" y2="159.7" stroke="#0000d6" stroke-width="4.17"/>
<line x1="808.6" y1="159.7" x2="813.5" y2="161.8" stroke="#0000da" stroke-width="4.17"/>
<line x1="813.5" y1="161.8" x2="819.1" y2="164.9" stroke="#0000e8" stroke-width="4.17"/>
<line x1="819.1" y1="164.9" x2="824.7" y2="166.1" stroke="#0000f1" stroke-width="4.17"/>
<line x1="824.7" y1="166.1" x2="830.9" y2="169.2" stroke="#0000f6" stroke-width="4.17"/>
<line x1="830.9" y1="169.2" x2="837.1" y2="172.3" stroke="#0000ff" stroke-width="4.17"/>
<line x1="837.1" y1="172.3" x2="844.5" y2="174.5" stroke="#0000ff" stroke-width="4.17"/>
<line x1="844.5" y1="174.5" x2="848.1" y2="176" stroke="#0000ff" stroke-width="4.17"/>
<line x1="848.1" y1="176" x2="850.6" y2="178.1" stroke="#0004ff" stroke-width="4.17"/>
<line x1="850.6" y1="178.1" x2="852.4" y2="182.4" stroke="#003cff" stroke-width="4.17"/>
<line x1="852.4" y1="182.4" x2="854.3" y2="186.7" stroke="#004cff" stroke-width="4.17"/>
<line x1="854.3" y1="186.7" x2="857.4" y2="189.5" stroke="#0078ff" stroke-width="4.17"/>
<line x1="857.4" y1="189.5" x2="863" y2="192" stroke="#00a8ff" stroke-width="4.17"/>
<line x1="863" y1="192" x2="866.1" y2="194.5" stroke="#00c4ff" stroke-width="4.17"/>
<line x1="866.1" y1="194.5" x2="868.9" y2="197.9" stroke="#00e4f8" stroke-width="4.17"/>
<line x1="868.9" y1="197.9" x2="871" y2="201.6" stroke="#16ffe1" stroke-width="4.17"/>
<line x1="871" y1="201.6" x2="874.1" y2="203.5" stroke="#29ffce" stroke-width="4.17"/>
<line x1="874.1" y1="203.5" x2="877.9" y2="204.7" stroke="#53ffa4" stroke-width="4.17"/>
<line x1="877.9" y1="204.7" x2="881.6" y2="206.9" stroke="#83ff73" stroke-width="4.17"/>
<line x1="881.6" y1="206.9" x2="883" y2="208" stroke="#beff39" stroke-width="4.17"/>
<line x1="883" y1="208" x2="889" y2="212.8" stroke="#ebff0c" stroke-width="4.17"/>
<line x1="889" y1="212.8" x2="899.6" y2="222.1" stroke="#ffc400" stroke-width="4.17"/>
<line x1="899.6" y1="222.1" x2="905.3" y2="228.8" stroke="#ff6f00" stroke-width="4.17"/>
<line x1="905.3" y1="228.8" x2="907" y2="231.2" stroke="#ff3800" stroke-width="4.17"/>
<line x1="907" y1="231.2" x2="907.6" y2="233.4" stroke="#f10800" stroke-width="4.17"/>
<line x1="907.6" y1="233.4" x2="902.2" y2="233.4" stroke="#c40000" stroke-width="4.17"/>
<rect x="731.5" y="268.6" width="136.3" height="3.5" fill="#002453"/>
</g>
<path d="M732.05 82.5 H920.5 V270.95" stroke="#fff" stroke-width="1.11" fill="none"/>
<line x1="731.5" x2="731.5" y1="81.95" y2="272.05" stroke="#002453" stroke-width="1.11"/>
<line x1="730.95" x2="921.05" y1="271.5" y2="271.5" stroke="#002453" stroke-width="1.11"/>
<line x1="731.5" x2="731.5" y1="271.5" y2="276.6" stroke="#002453" stroke-width="1.11"/>
<line x1="726.4" x2="731.5" y1="271.5" y2="271.5" stroke="#002453" stroke-width="1.11"/>
<text x="731.5" y="291.7" font-size="13.89" text-anchor="middle">−40</text>
<text x="721.2" y="276.8" font-size="13.89" text-anchor="end">−40</text>
<line x1="778.5" x2="778.5" y1="271.5" y2="276.6" stroke="#002453" stroke-width="1.11"/>
<line x1="726.4" x2="731.5" y1="224.5" y2="224.5" stroke="#002453" stroke-width="1.11"/>
<text x="778.5" y="291.7" font-size="13.89" text-anchor="middle">−20</text>
<text x="721.2" y="229.8" font-size="13.89" text-anchor="end">−20</text>
<line x1="825.5" x2="825.5" y1="271.5" y2="276.6" stroke="#002453" stroke-width="1.11"/>
<line x1="726.4" x2="731.5" y1="177.5" y2="177.5" stroke="#002453" stroke-width="1.11"/>
<text x="825.5" y="291.7" font-size="13.89" text-anchor="middle">0</text>
<text x="721.2" y="182.8" font-size="13.89" text-anchor="end">0</text>
<line x1="873.5" x2="873.5" y1="271.5" y2="276.6" stroke="#002453" stroke-width="1.11"/>
<line x1="726.4" x2="731.5" y1="130.5" y2="130.5" stroke="#002453" stroke-width="1.11"/>
<text x="873.5" y="291.7" font-size="13.89" text-anchor="middle">20</text>
<text x="721.2" y="135.8" font-size="13.89" text-anchor="end">20</text>
<line x1="920.5" x2="920.5" y1="271.5" y2="276.6" stroke="#002453" stroke-width="1.11"/>
<line x1="726.4" x2="731.5" y1="82.5" y2="82.5" stroke="#002453" stroke-width="1.11"/>
<text x="920.5" y="291.7" font-size="13.89" text-anchor="middle">40</text>
<text x="721.2" y="87.8" font-size="13.89" text-anchor="end">40</text>
<text x="825.9" y="307.2" font-size="13.89" text-anchor="middle">u (m s<tspan font-size="9.72" dy="-5.0">−1</tspan><tspan dy="5.0">)</tspan></text>
<text transform="translate(688.7 177) rotate(-90)" font-size="13.89" text-anchor="middle">v (m s<tspan font-size="9.72" dy="-5.0">−1</tspan><tspan dy="5.0">)</tspan></text>
<rect x="691.5" y="312.3" width="270" height="13.2" fill="url(#jet)" stroke="#002453" stroke-width="1.11"/>
<line x1="691.5" x2="691.5" y1="325.5" y2="330.6" stroke="#002453" stroke-width="1.11"/>
<text x="691.5" y="345.7" font-size="13.89" text-anchor="middle">0</text>
<line x1="745.5" x2="745.5" y1="325.5" y2="330.6" stroke="#002453" stroke-width="1.11"/>
<text x="745.5" y="345.7" font-size="13.89" text-anchor="middle">2</text>
<line x1="799.5" x2="799.5" y1="325.5" y2="330.6" stroke="#002453" stroke-width="1.11"/>
<text x="799.5" y="345.7" font-size="13.89" text-anchor="middle">4</text>
<line x1="853.5" x2="853.5" y1="325.5" y2="330.6" stroke="#002453" stroke-width="1.11"/>
<text x="853.5" y="345.7" font-size="13.89" text-anchor="middle">6</text>
<line x1="907.5" x2="907.5" y1="325.5" y2="330.6" stroke="#002453" stroke-width="1.11"/>
<text x="907.5" y="345.7" font-size="13.89" text-anchor="middle">8</text>
<line x1="961.5" x2="961.5" y1="325.5" y2="330.6" stroke="#002453" stroke-width="1.11"/>
<text x="961.5" y="345.7" font-size="13.89" text-anchor="middle">10</text>
<text x="825.3" y="365.7" font-size="13.89" text-anchor="middle">Height (km AGL)</text>
</svg>
</body></html>
